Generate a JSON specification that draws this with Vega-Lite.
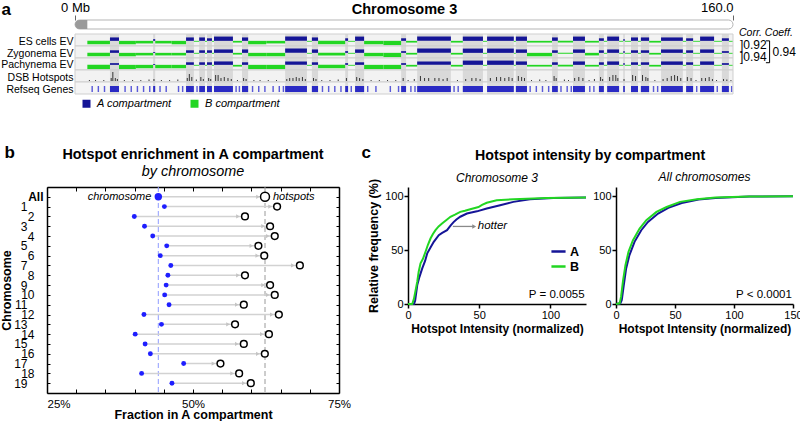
{
"$schema": "https://vega.github.io/schema/vega-lite/v6.json",
"padding": 0,
"background": "white",
"bounds": "flush",
"spacing": 167,
"config": {
  "font": "Liberation Sans",
  "view": {"stroke": null},
  "axis": {"grid": false, "labelFont": "Liberation Sans", "titleFont": "Liberation Sans", "labelColor": "black", "titleColor": "black", "domainColor": "black", "tickColor": "black"},
  "title": {"font": "Liberation Sans", "color": "black", "subtitleFont": "Liberation Sans", "subtitleColor": "black"},
  "legend": {"labelFont": "Liberation Sans", "labelColor": "black"},
  "text": {"font": "Liberation Sans"}
},
"datasets": {
  "ideo": [{"part": "chr", "s": 0, "e": 160}, {"part": "cen", "s": 0, "e": 3}],
  "comp": [
    {"s":3,"e":8.5,"c":"B","es":-4,"zy":-4,"pa":-5},
    {"s":8.5,"e":10.7,"c":"A","es":4,"zy":3,"pa":2},
    {"s":10.7,"e":14.8,"c":"B","es":-4,"zy":-4,"pa":-5},
    {"s":14.8,"e":19.0,"c":"B","es":-3,"zy":-3,"pa":-4},
    {"s":19.0,"e":19.5,"c":"A","es":2,"zy":1,"pa":1},
    {"s":19.5,"e":23.5,"c":"B","es":-3,"zy":-3,"pa":-4},
    {"s":23.5,"e":27.0,"c":"B","es":-4,"zy":-3,"pa":-4},
    {"s":27.0,"e":28.9,"c":"A","es":4,"zy":3,"pa":3},
    {"s":28.9,"e":30.2,"c":"B","es":-1,"zy":-1,"pa":-1},
    {"s":30.2,"e":31.6,"c":"A","es":4,"zy":3,"pa":3},
    {"s":31.6,"e":32.1,"c":"B","es":-1,"zy":-1,"pa":-1},
    {"s":32.1,"e":33.3,"c":"A","es":3,"zy":3,"pa":3},
    {"s":33.3,"e":33.8,"c":"B","es":-1,"zy":-1,"pa":-1},
    {"s":33.8,"e":38.4,"c":"A","es":5,"zy":4,"pa":4},
    {"s":38.4,"e":40.6,"c":"B","es":-2,"zy":-2,"pa":-2},
    {"s":40.6,"e":42.1,"c":"A","es":4,"zy":4,"pa":3},
    {"s":42.1,"e":46.5,"c":"B","es":-4,"zy":-4,"pa":-5},
    {"s":46.5,"e":51.1,"c":"B","es":-3,"zy":-4,"pa":-5},
    {"s":51.1,"e":56.4,"c":"A","es":5,"zy":5,"pa":4},
    {"s":56.4,"e":57.6,"c":"B","es":-1,"zy":-1,"pa":-1},
    {"s":57.6,"e":59.1,"c":"A","es":4,"zy":4,"pa":3},
    {"s":59.1,"e":65.7,"c":"B","es":-4,"zy":-3,"pa":-4},
    {"s":65.7,"e":66.4,"c":"A","es":3,"zy":2,"pa":2},
    {"s":66.4,"e":68.1,"c":"B","es":-1,"zy":-1,"pa":-1},
    {"s":68.1,"e":70.3,"c":"A","es":5,"zy":4,"pa":3},
    {"s":70.3,"e":75.0,"c":"B","es":-4,"zy":-4,"pa":-5},
    {"s":75.0,"e":79.3,"c":"B","es":-5,"zy":-5,"pa":-5},
    {"s":79.3,"e":80.5,"c":"A","es":3,"zy":2,"pa":2},
    {"s":80.5,"e":83.2,"c":"B","es":-2,"zy":-2,"pa":-2},
    {"s":83.2,"e":91.4,"c":"A","es":5,"zy":5,"pa":4},
    {"s":91.4,"e":94.3,"c":"B","es":-2,"zy":-2,"pa":-2},
    {"s":94.3,"e":99.2,"c":"A","es":5,"zy":5,"pa":5},
    {"s":99.2,"e":100.2,"c":"B","es":-1,"zy":-1,"pa":-1},
    {"s":100.2,"e":106.7,"c":"A","es":5,"zy":5,"pa":5},
    {"s":106.7,"e":107.2,"c":"B","es":-1,"zy":-1,"pa":-1},
    {"s":107.2,"e":109.9,"c":"A","es":5,"zy":4,"pa":4},
    {"s":109.9,"e":116.0,"c":"B","es":-2,"zy":-4,"pa":-2},
    {"s":116.0,"e":117.4,"c":"A","es":4,"zy":3,"pa":3},
    {"s":117.4,"e":121.1,"c":"B","es":-2,"zy":-1,"pa":-2},
    {"s":121.1,"e":124.0,"c":"A","es":5,"zy":4,"pa":4},
    {"s":124.0,"e":127.4,"c":"B","es":-2,"zy":-3,"pa":-2},
    {"s":127.4,"e":128.6,"c":"A","es":3,"zy":3,"pa":3},
    {"s":128.6,"e":129.4,"c":"B","es":-1,"zy":-1,"pa":-1},
    {"s":129.4,"e":132.3,"c":"A","es":5,"zy":4,"pa":4},
    {"s":132.3,"e":133.3,"c":"B","es":-1,"zy":-1,"pa":-1},
    {"s":133.3,"e":133.7,"c":"A","es":2,"zy":2,"pa":2},
    {"s":133.7,"e":135.2,"c":"B","es":-1,"zy":-1,"pa":-1},
    {"s":135.2,"e":136.9,"c":"A","es":4,"zy":3,"pa":3},
    {"s":136.9,"e":137.6,"c":"B","es":-1,"zy":-1,"pa":-1},
    {"s":137.6,"e":139.6,"c":"A","es":4,"zy":3,"pa":3},
    {"s":139.6,"e":142.5,"c":"B","es":-2,"zy":-2,"pa":-2},
    {"s":142.5,"e":147.8,"c":"A","es":4,"zy":4,"pa":4},
    {"s":147.8,"e":148.6,"c":"B","es":-1,"zy":-1,"pa":-1},
    {"s":148.6,"e":150.3,"c":"A","es":3,"zy":3,"pa":3},
    {"s":150.3,"e":152.0,"c":"B","es":-1,"zy":-1,"pa":-1},
    {"s":152.0,"e":155.4,"c":"A","es":5,"zy":4,"pa":4},
    {"s":155.4,"e":157.3,"c":"B","es":-1,"zy":-1,"pa":-1},
    {"s":157.3,"e":159.0,"c":"A","es":3,"zy":2,"pa":2},
    {"s":159.0,"e":160.0,"c":"B","es":-1,"zy":-1,"pa":-1}
  ],
  "dsb": [
    {"p":3.5,"h":1},{"p":5,"h":1},{"p":7,"h":1},{"p":8.8,"h":3},{"p":9.2,"h":9},{"p":9.8,"h":3},{"p":10.3,"h":2},{"p":12,"h":1},{"p":14,"h":1},{"p":16,"h":1},
    {"p":18,"h":1.5},{"p":19.2,"h":2},{"p":21,"h":1},{"p":23,"h":1},{"p":25,"h":1.5},{"p":27.3,"h":3},{"p":27.8,"h":7},{"p":28.4,"h":4},{"p":29.5,"h":1.5},{"p":30.6,"h":4},
    {"p":31.2,"h":2},{"p":32.5,"h":3},{"p":33,"h":2},{"p":34.2,"h":6},{"p":34.8,"h":6},{"p":35.5,"h":3},{"p":36.3,"h":4},{"p":37.2,"h":3},{"p":38,"h":2},{"p":39.5,"h":1},
    {"p":41,"h":3},{"p":41.6,"h":2},{"p":43.5,"h":1},{"p":45,"h":1},{"p":47,"h":1},{"p":49,"h":1},{"p":51.5,"h":2},{"p":52.2,"h":3},{"p":53,"h":3},{"p":53.8,"h":4},
    {"p":54.5,"h":3},{"p":55.3,"h":4},{"p":56,"h":2},{"p":58,"h":3},{"p":58.6,"h":2},{"p":60,"h":1},{"p":62,"h":1},{"p":64,"h":1.5},{"p":66,"h":3},{"p":68.5,"h":4},
    {"p":69.2,"h":3},{"p":70,"h":2},{"p":72,"h":1},{"p":74,"h":1},{"p":76,"h":1},{"p":78,"h":1},{"p":79.8,"h":3},{"p":81,"h":1},{"p":82.5,"h":2},{"p":84,"h":5},
    {"p":85,"h":3},{"p":86,"h":3},{"p":87.5,"h":3},{"p":88.5,"h":3},{"p":89.5,"h":2},{"p":90.5,"h":3},{"p":93,"h":1},{"p":95,"h":2},{"p":96.5,"h":3},{"p":97.5,"h":3},
    {"p":98.5,"h":2},{"p":101,"h":3},{"p":102.5,"h":4},{"p":103.5,"h":4},{"p":104.5,"h":3},{"p":105.5,"h":4},{"p":106.3,"h":3},{"p":107.8,"h":5},{"p":108.6,"h":4},{"p":109.3,"h":3},
    {"p":111,"h":1},{"p":113,"h":1.5},{"p":114.5,"h":1},{"p":116.5,"h":5},{"p":117,"h":3},{"p":119,"h":1.5},{"p":120,"h":1},{"p":121.5,"h":3},{"p":122.5,"h":4},{"p":123.5,"h":3},
    {"p":125,"h":1},{"p":126.3,"h":2},{"p":127.8,"h":4},{"p":128.3,"h":2},{"p":130,"h":4},{"p":130.8,"h":6},{"p":131.5,"h":6},{"p":132,"h":3},{"p":133.5,"h":2},{"p":135.6,"h":6},
    {"p":136.3,"h":5},{"p":138,"h":6},{"p":138.8,"h":4},{"p":139.3,"h":3},{"p":141,"h":1},{"p":143,"h":2},{"p":144,"h":3},{"p":145,"h":5},{"p":145.8,"h":6},{"p":146.5,"h":5},
    {"p":147.3,"h":3},{"p":148.9,"h":4},{"p":149.8,"h":3},{"p":151,"h":1},{"p":152.4,"h":3},{"p":153.3,"h":3},{"p":154.2,"h":4},{"p":155,"h":2},{"p":156,"h":1},{"p":157.7,"h":2},
    {"p":158.5,"h":1.5},{"p":159.5,"h":1}
  ],
  "genes": [
    {"s":4,"e":4.35},{"s":5.5,"e":5.85},{"s":7,"e":7.35},{"s":12,"e":12.35},{"s":13.5,"e":13.85},{"s":15,"e":15.35},{"s":16.5,"e":16.85},{"s":18,"e":18.35},
    {"s":20.5,"e":20.85},{"s":22,"e":22.35},{"s":25,"e":25.35},{"s":26,"e":26.35},{"s":29.5,"e":29.85},{"s":39,"e":39.35},{"s":39.8,"e":40.15},{"s":43,"e":43.35},
    {"s":44.5,"e":44.85},{"s":46,"e":46.35},{"s":48,"e":48.35},{"s":49.5,"e":49.85},{"s":50.5,"e":50.85},{"s":60,"e":60.35},{"s":61.5,"e":61.85},{"s":63,"e":63.35},
    {"s":64.5,"e":64.85},{"s":67,"e":67.35},{"s":71,"e":71.35},{"s":73,"e":73.35},{"s":76.5,"e":76.85},{"s":78.5,"e":78.85},{"s":81.5,"e":81.85},{"s":82.5,"e":82.85},
    {"s":92,"e":92.35},{"s":93,"e":93.35},{"s":110.5,"e":110.85},{"s":112,"e":112.35},{"s":113.5,"e":113.85},{"s":115,"e":115.35},{"s":118,"e":118.35},{"s":119.5,"e":119.85},
    {"s":120.5,"e":120.85},{"s":125,"e":125.35},{"s":126,"e":126.35},{"s":140.5,"e":140.85},{"s":141.5,"e":141.85},{"s":151,"e":151.35},{"s":156,"e":156.35},{"s":159.5,"e":159.85}
  ],
  "enrich": [
    {"chr":"All","chrom":0.4406,"hot":0.6233},
    {"chr":"1","chrom":0.451,"hot":0.644},
    {"chr":"2","chrom":0.3995,"hot":0.589},
    {"chr":"3","chrom":0.417,"hot":0.632},
    {"chr":"4","chrom":0.431,"hot":0.640},
    {"chr":"5","chrom":0.455,"hot":0.612},
    {"chr":"6","chrom":0.444,"hot":0.622},
    {"chr":"7","chrom":0.462,"hot":0.683},
    {"chr":"8","chrom":0.457,"hot":0.589},
    {"chr":"9","chrom":0.454,"hot":0.632},
    {"chr":"10","chrom":0.4515,"hot":0.640},
    {"chr":"11","chrom":0.459,"hot":0.587},
    {"chr":"12","chrom":0.416,"hot":0.647},
    {"chr":"13","chrom":0.446,"hot":0.572},
    {"chr":"14","chrom":0.401,"hot":0.630},
    {"chr":"15","chrom":0.418,"hot":0.587},
    {"chr":"16","chrom":0.427,"hot":0.623},
    {"chr":"17","chrom":0.484,"hot":0.547},
    {"chr":"18","chrom":0.412,"hot":0.579},
    {"chr":"19","chrom":0.464,"hot":0.599}
  ],
  "cdf3": [
    {"comp":"A","x":0,"y":0},{"comp":"A","x":4.2,"y":0},{"comp":"A","x":5,"y":3},{"comp":"A","x":6.5,"y":17.6},{"comp":"A","x":8,"y":25},{"comp":"A","x":10,"y":33},
    {"comp":"A","x":12,"y":40},{"comp":"A","x":13.5,"y":47},{"comp":"A","x":16,"y":53},{"comp":"A","x":18.1,"y":57.7},{"comp":"A","x":21.6,"y":63.9},{"comp":"A","x":24,"y":66},
    {"comp":"A","x":27.4,"y":68.5},{"comp":"A","x":30,"y":73},{"comp":"A","x":32,"y":76},{"comp":"A","x":34,"y":78.5},{"comp":"A","x":36.7,"y":81},{"comp":"A","x":41.4,"y":84},
    {"comp":"A","x":48.4,"y":86},{"comp":"A","x":55.3,"y":88.6},{"comp":"A","x":64.7,"y":91.7},{"comp":"A","x":74,"y":94.8},{"comp":"A","x":85.6,"y":97.2},{"comp":"A","x":101.9,"y":98.5},{"comp":"A","x":125,"y":98.8},
    {"comp":"B","x":0,"y":0},{"comp":"B","x":3,"y":0},{"comp":"B","x":4.2,"y":5},{"comp":"B","x":6.5,"y":20.7},{"comp":"B","x":7.5,"y":30},{"comp":"B","x":8.8,"y":37.7},
    {"comp":"B","x":10.5,"y":42},{"comp":"B","x":12.3,"y":48.5},{"comp":"B","x":14,"y":55},{"comp":"B","x":15.8,"y":60.8},{"comp":"B","x":17.5,"y":65},{"comp":"B","x":19.3,"y":68.5},
    {"comp":"B","x":21.5,"y":72},{"comp":"B","x":23.9,"y":74.7},{"comp":"B","x":27,"y":78},{"comp":"B","x":29.8,"y":81},{"comp":"B","x":33,"y":83},{"comp":"B","x":36.7,"y":85.5},
    {"comp":"B","x":40,"y":86.5},{"comp":"B","x":43.7,"y":88},{"comp":"B","x":49.5,"y":90},{"comp":"B","x":52,"y":92},{"comp":"B","x":55.3,"y":94},{"comp":"B","x":62.3,"y":96.3},
    {"comp":"B","x":74,"y":97.2},{"comp":"B","x":97.2,"y":98.5},{"comp":"B","x":125,"y":98.8}
  ],
  "cdfall": [
    {"comp":"A","x":0,"y":0},{"comp":"A","x":3.7,"y":0.6},{"comp":"A","x":4.9,"y":3.7},{"comp":"A","x":6.6,"y":17.6},{"comp":"A","x":8.6,"y":33},{"comp":"A","x":11.4,"y":45.4},
    {"comp":"A","x":15.7,"y":57.7},{"comp":"A","x":21.4,"y":68.5},{"comp":"A","x":27.1,"y":76.2},{"comp":"A","x":35.7,"y":84},{"comp":"A","x":44.3,"y":89.2},{"comp":"A","x":55.7,"y":93.8},
    {"comp":"A","x":70,"y":96.9},{"comp":"A","x":84.3,"y":98.5},{"comp":"A","x":112.9,"y":99.7},{"comp":"A","x":150,"y":100},
    {"comp":"B","x":0,"y":0},{"comp":"B","x":3.1,"y":0.6},{"comp":"B","x":4.3,"y":6.8},{"comp":"B","x":6,"y":22},{"comp":"B","x":8,"y":36},{"comp":"B","x":10.6,"y":48.5},
    {"comp":"B","x":14.3,"y":59},{"comp":"B","x":20,"y":70},{"comp":"B","x":25.7,"y":77.8},{"comp":"B","x":34.3,"y":85.5},{"comp":"B","x":42.9,"y":90},{"comp":"B","x":54.3,"y":94.8},
    {"comp":"B","x":68.6,"y":97.2},{"comp":"B","x":84.3,"y":98.8},{"comp":"B","x":112.9,"y":99.7},{"comp":"B","x":150,"y":100}
  ]
},
"vconcat": [
  {
    "bounds": "flush",
    "spacing": 0,
    "vconcat": [
      {
        "width": 686, "height": 14,
        "data": {"name": "ideo"},
        "layer": [
          {
            "transform": [{"filter": "datum.part === 'chr'"}],
            "mark": {"type": "rect", "fill": "white", "stroke": "#b5b5b5", "strokeWidth": 1, "cornerRadius": 4.5},
            "encoding": {
              "x": {"field": "s", "type": "quantitative", "scale": {"domain": [-6.81, 160], "nice": false, "zero": false},
                    "axis": {"orient": "top", "values": [0, 160], "labelExpr": "datum.value == 0 ? '0 Mb' : '160.0'",
                             "labelAlign": {"condition": {"test": "datum.value >= 160", "value": "right"}, "value": "center"},
                             "tickSize": 5, "tickColor": "#666", "labelPadding": 1, "labelFontSize": 13, "domain": false,
                             "title": "Chromosome 3", "titleFontSize": 14.5, "titleFontWeight": "bold", "titleX": 357, "titleY": -11, "titleAlign": "center", "titleBaseline": "middle"}},
              "x2": {"field": "e"},
              "y": {"datum": 5, "type": "quantitative", "scale": {"domain": [0, 14], "nice": false},
                    "axis": {"labels": false, "ticks": false, "domain": false, "title": "a", "titleAngle": 0, "titleX": -46, "titleY": -11, "titleAlign": "left", "titleBaseline": "middle", "titleFontSize": 17, "titleFontWeight": "bold"}},
              "y2": {"datum": 14}
            }
          },
          {
            "transform": [{"filter": "datum.part === 'cen'"}],
            "mark": {"type": "rect", "fill": "#9a9a9a", "cornerRadiusTopLeft": 4.5, "cornerRadiusBottomLeft": 4.5},
            "encoding": {
              "x": {"field": "s", "type": "quantitative"},
              "x2": {"field": "e"},
              "y": {"datum": 5, "type": "quantitative"},
              "y2": {"datum": 14}
            }
          }
        ]
      },
      {
        "width": 686, "height": 12,
        "layer": [
          {"data": {"name": "ideo"}, "transform": [{"filter": "datum.part === 'chr'"}],
           "mark": {"type": "rect", "fill": "#f2f2f2"},
           "encoding": {"x": {"field": "s", "type": "quantitative", "scale": {"domain": [-6.81, 160], "nice": false, "zero": false}, "axis": null}, "x2": {"field": "e"}}},
          {"data": {"name": "comp"}, "transform": [{"filter": "datum.c === 'A'"}],
           "mark": {"type": "rect", "color": "#d9d9d9"},
           "encoding": {"x": {"field": "s", "type": "quantitative"}, "x2": {"field": "e"}}},
          {"data": {"name": "comp"},
           "mark": {"type": "rect"},
           "encoding": {
             "x": {"field": "s", "type": "quantitative"},
             "x2": {"field": "e"},
             "y": {"field": "es", "type": "quantitative", "scale": {"domain": [-6, 8], "nice": false},
                   "axis": {"title": "ES cells EV", "titleAngle": 0, "titleAlign": "right", "titleBaseline": "middle", "titleX": 26, "titleY": 7, "titleFontSize": 10.5, "titleFontWeight": "normal", "labels": false, "ticks": false, "domain": false}},
             "y2": {"datum": 0},
             "color": {"field": "c", "type": "nominal", "scale": {"domain": ["A", "B"], "range": ["#151597", "#22d622"]},
                       "legend": {"orient": "none", "legendX": 34, "legendY": 78, "direction": "horizontal", "title": null, "symbolType": "square", "symbolSize": 64, "symbolStrokeWidth": 0,
                                  "labelExpr": "datum.label + ' compartment'", "labelFontStyle": "italic", "labelFontSize": 11, "columnPadding": 17, "labelOffset": 5}}
           }},
          {"data": {"name": "ideo"}, "transform": [{"filter": "datum.part === 'chr'"}],
           "mark": {"type": "rect", "filled": false, "stroke": "#cfcfcf", "strokeWidth": 1},
           "encoding": {"x": {"field": "s", "type": "quantitative"}, "x2": {"field": "e"}}},
          {"data": {"values": [{}]}, "mark": {"type": "text", "text": "Corr. Coeff.", "align": "left", "baseline": "middle", "dx": 6, "fontSize": 10.5, "fontStyle": "italic"},
           "encoding": {"x": {"datum": 160, "type": "quantitative"}, "y": {"datum": 9.2, "type": "quantitative"}}},
          {"data": {"values": [{}]}, "mark": {"type": "text", "text": "]0.92", "align": "left", "baseline": "middle", "dx": 7, "fontSize": 12},
           "encoding": {"x": {"datum": 160, "type": "quantitative"}, "y": {"datum": -4.6, "type": "quantitative"}}},
          {"data": {"values": [{}]}, "mark": {"type": "text", "text": "]0.94", "align": "left", "baseline": "middle", "dx": 7, "fontSize": 12},
           "encoding": {"x": {"datum": 160, "type": "quantitative"}, "y": {"datum": -18.5, "type": "quantitative"}}},
          {"data": {"values": [{}]}, "mark": {"type": "rule", "color": "black", "strokeWidth": 1},
           "encoding": {"x": {"datum": 168.9, "type": "quantitative"}, "y": {"datum": 0, "type": "quantitative"}, "y2": {"datum": -25.5}}},
          {"data": {"values": [{}]}, "mark": {"type": "rule", "color": "black", "strokeWidth": 1},
           "encoding": {"x": {"datum": 168.0, "type": "quantitative"}, "x2": {"datum": 168.9}, "y": {"datum": 0, "type": "quantitative"}}},
          {"data": {"values": [{}]}, "mark": {"type": "rule", "color": "black", "strokeWidth": 1},
           "encoding": {"x": {"datum": 168.0, "type": "quantitative"}, "x2": {"datum": 168.9}, "y": {"datum": -25.5, "type": "quantitative"}}},
          {"data": {"values": [{}]}, "mark": {"type": "text", "text": "0.94", "align": "left", "baseline": "middle", "dx": 3, "fontSize": 12},
           "encoding": {"x": {"datum": 168.9, "type": "quantitative"}, "y": {"datum": -12.8, "type": "quantitative"}}}
        ]
      },
      {
        "width": 686, "height": 12,
        "layer": [
          {"data": {"name": "ideo"}, "transform": [{"filter": "datum.part === 'chr'"}],
           "mark": {"type": "rect", "fill": "#f2f2f2"},
           "encoding": {"x": {"field": "s", "type": "quantitative", "scale": {"domain": [-6.81, 160], "nice": false, "zero": false}, "axis": null}, "x2": {"field": "e"}}},
          {"data": {"name": "comp"}, "transform": [{"filter": "datum.c === 'A'"}],
           "mark": {"type": "rect", "color": "#d9d9d9"},
           "encoding": {"x": {"field": "s", "type": "quantitative"}, "x2": {"field": "e"}}},
          {"data": {"name": "comp"},
           "mark": {"type": "rect"},
           "encoding": {
             "x": {"field": "s", "type": "quantitative"},
             "x2": {"field": "e"},
             "y": {"field": "zy", "type": "quantitative", "scale": {"domain": [-6, 8], "nice": false},
                   "axis": {"title": "Zygonema EV", "titleAngle": 0, "titleAlign": "right", "titleBaseline": "middle", "titleX": 26, "titleY": 7, "titleFontSize": 10.5, "titleFontWeight": "normal", "labels": false, "ticks": false, "domain": false}},
             "y2": {"datum": 0},
             "color": {"field": "c", "type": "nominal", "scale": {"domain": ["A", "B"], "range": ["#151597", "#22d622"]}, "legend": null}
           }},
          {"data": {"name": "ideo"}, "transform": [{"filter": "datum.part === 'chr'"}],
           "mark": {"type": "rect", "filled": false, "stroke": "#cfcfcf", "strokeWidth": 1},
           "encoding": {"x": {"field": "s", "type": "quantitative"}, "x2": {"field": "e"}}}
        ]
      },
      {
        "width": 686, "height": 12,
        "layer": [
          {"data": {"name": "ideo"}, "transform": [{"filter": "datum.part === 'chr'"}],
           "mark": {"type": "rect", "fill": "#f2f2f2"},
           "encoding": {"x": {"field": "s", "type": "quantitative", "scale": {"domain": [-6.81, 160], "nice": false, "zero": false}, "axis": null}, "x2": {"field": "e"}}},
          {"data": {"name": "comp"}, "transform": [{"filter": "datum.c === 'A'"}],
           "mark": {"type": "rect", "color": "#d9d9d9"},
           "encoding": {"x": {"field": "s", "type": "quantitative"}, "x2": {"field": "e"}}},
          {"data": {"name": "comp"},
           "mark": {"type": "rect"},
           "encoding": {
             "x": {"field": "s", "type": "quantitative"},
             "x2": {"field": "e"},
             "y": {"field": "pa", "type": "quantitative", "scale": {"domain": [-6, 8], "nice": false},
                   "axis": {"title": "Pachynema EV", "titleAngle": 0, "titleAlign": "right", "titleBaseline": "middle", "titleX": 26, "titleY": 6, "titleFontSize": 10.5, "titleFontWeight": "normal", "labels": false, "ticks": false, "domain": false}},
             "y2": {"datum": 0},
             "color": {"field": "c", "type": "nominal", "scale": {"domain": ["A", "B"], "range": ["#151597", "#22d622"]}, "legend": null}
           }},
          {"data": {"name": "ideo"}, "transform": [{"filter": "datum.part === 'chr'"}],
           "mark": {"type": "rect", "filled": false, "stroke": "#cfcfcf", "strokeWidth": 1},
           "encoding": {"x": {"field": "s", "type": "quantitative"}, "x2": {"field": "e"}}}
        ]
      },
      {
        "width": 686, "height": 12,
        "layer": [
          {"data": {"name": "ideo"}, "transform": [{"filter": "datum.part === 'chr'"}],
           "mark": {"type": "rect", "fill": "#f2f2f2"},
           "encoding": {"x": {"field": "s", "type": "quantitative", "scale": {"domain": [-6.81, 160], "nice": false, "zero": false},
                              "axis": {"orient": "bottom", "labels": false, "ticks": false, "domain": false, "title": "c", "titleX": 314, "titleY": 70, "titleAlign": "left", "titleBaseline": "middle", "titleFontSize": 17, "titleFontWeight": "bold"}},
                        "x2": {"field": "e"}}},
          {"data": {"name": "comp"}, "transform": [{"filter": "datum.c === 'A'"}],
           "mark": {"type": "rect", "color": "#d9d9d9"},
           "encoding": {"x": {"field": "s", "type": "quantitative"}, "x2": {"field": "e"}}},
          {"data": {"name": "dsb"},
           "mark": {"type": "rule", "color": "#222222", "strokeWidth": 0.9},
           "encoding": {
             "x": {"field": "p", "type": "quantitative"},
             "y": {"field": "h", "type": "quantitative", "scale": {"domain": [-1, 11], "nice": false},
                   "axis": {"title": "DSB Hotspots", "titleAngle": 0, "titleAlign": "right", "titleBaseline": "middle", "titleX": 26, "titleY": 7, "titleFontSize": 10.5, "titleFontWeight": "normal", "labels": false, "ticks": false, "domain": false}},
             "y2": {"datum": 0}
           }},
          {"data": {"name": "ideo"}, "transform": [{"filter": "datum.part === 'chr'"}],
           "mark": {"type": "rect", "filled": false, "stroke": "#cfcfcf", "strokeWidth": 1},
           "encoding": {"x": {"field": "s", "type": "quantitative"}, "x2": {"field": "e"}}}
        ]
      },
      {
        "width": 686, "height": 12,
        "layer": [
          {"data": {"name": "ideo"}, "transform": [{"filter": "datum.part === 'chr'"}],
           "mark": {"type": "rect", "fill": "#f5f5f5"},
           "encoding": {"x": {"field": "s", "type": "quantitative", "scale": {"domain": [-6.81, 160], "nice": false, "zero": false},
                              "axis": {"orient": "bottom", "labels": false, "ticks": false, "domain": false, "title": "b", "titleX": -43, "titleY": 58, "titleAlign": "left", "titleBaseline": "middle", "titleFontSize": 17, "titleFontWeight": "bold"}},
                        "x2": {"field": "e"}}},
          {"data": {"name": "comp"}, "transform": [{"filter": "datum.c === 'A'"}],
           "mark": {"type": "rect", "color": "#dcdcdc"},
           "encoding": {"x": {"field": "s", "type": "quantitative"}, "x2": {"field": "e"}}},
          {"data": {"name": "comp"}, "transform": [{"filter": "datum.c === 'A'"}],
           "mark": {"type": "rect", "color": "#2a2ac4"},
           "encoding": {
             "x": {"field": "s", "type": "quantitative"},
             "x2": {"field": "e"},
             "y": {"datum": 2, "type": "quantitative", "scale": {"domain": [0, 12], "nice": false},
                   "axis": {"title": "Refseq Genes", "titleAngle": 0, "titleAlign": "right", "titleBaseline": "middle", "titleX": 26, "titleY": 7, "titleFontSize": 10.5, "titleFontWeight": "normal", "labels": false, "ticks": false, "domain": false}},
             "y2": {"datum": 8}
           }},
          {"data": {"name": "genes"},
           "mark": {"type": "rect", "color": "#5a5ad8"},
           "encoding": {
             "x": {"field": "s", "type": "quantitative"},
             "x2": {"field": "e"},
             "y": {"datum": 2, "type": "quantitative"},
             "y2": {"datum": 8}
           }},
          {"data": {"name": "ideo"}, "transform": [{"filter": "datum.part === 'chr'"}],
           "mark": {"type": "rect", "filled": false, "stroke": "#cfcfcf", "strokeWidth": 1},
           "encoding": {"x": {"field": "s", "type": "quantitative"}, "x2": {"field": "e"}}}
        ]
      }
    ]
  },
  {
    "bounds": "flush",
    "spacing": 69,
    "hconcat": [
      {
        "width": 292, "height": 206,
        "data": {"name": "enrich"},
        "title": {"text": "Hotspot enrichment in A compartment", "subtitle": "by chromosome", "fontSize": 14.4, "fontWeight": "bold", "subtitleFontSize": 14.4, "subtitleFontStyle": "italic", "subtitlePadding": 3, "offset": 7, "anchor": "middle"},
        "resolve": {"axis": {"x": "independent", "y": "independent"}},
        "layer": [
          {"transform": [{"filter": "datum.chr === 'All'"}],
           "mark": {"type": "rule", "color": "#8f9cff", "strokeDash": [5, 3], "strokeWidth": 1},
           "encoding": {"x": {"field": "chrom", "type": "quantitative", "scale": {"domain": [0.25, 0.75], "nice": false, "zero": false}, "axis": null}}},
          {"transform": [{"filter": "datum.chr === 'All'"}],
           "mark": {"type": "rule", "color": "#9a9a9a", "strokeDash": [5, 3], "strokeWidth": 1},
           "encoding": {"x": {"field": "hot", "type": "quantitative", "axis": null}}},
          {"mark": {"type": "rule", "color": "#d2d2d2", "strokeWidth": 1.5},
           "encoding": {
             "x": {"field": "chrom", "type": "quantitative",
                   "axis": {"orient": "bottom", "values": [0.25, 0.3, 0.35, 0.4, 0.45, 0.5, 0.55, 0.6, 0.65, 0.7, 0.75],
                      "labelExpr": "indexof([25,50,75], round(datum.value*100)) >= 0 ? round(datum.value*100) + '%' : ''",
                      "labelAlign": {"condition": {"test": "datum.value < 0.26", "value": "left"}, "value": "center"},
                      "tickSize": -4, "domain": true, "domainWidth": 1.5, "domainColor": "black", "labelPadding": 9, "labelFontSize": 11.5,
                      "title": "Fraction in A compartment", "titleFontSize": 12.5, "titleFontWeight": "bold", "titlePadding": -1}},
             "x2": {"field": "hot"},
             "y": {"field": "chr", "type": "nominal", "sort": ["All","1","2","3","4","5","6","7","8","9","10","11","12","13","14","15","16","17","18","19"], "scale": {"type": "point", "padding": 1.37},
                   "axis": {"orient": "left", "labelFontSize": 12,
                            "labelFontWeight": {"condition": {"test": "datum.value === 'All'", "value": "bold"}, "value": "normal"},
                            "labelPadding": {"condition": [{"test": "datum.value === 'All'", "value": 7}, {"test": "toNumber(datum.value) % 2 === 1", "value": 23}], "value": 16},
                            "tickSize": -3, "domain": true, "domainWidth": 1.5, "domainColor": "black", "title": "Chromosome", "titleFontSize": 12.5, "titleFontWeight": "bold", "titlePadding": 0}}
           }},
          {"mark": {"type": "point", "shape": "triangle-right", "filled": true, "color": "#c4c4c4", "size": 18, "xOffset": -7, "opacity": 1},
           "encoding": {
             "x": {"field": "hot", "type": "quantitative",
                   "axis": {"orient": "top", "values": [0.25, 0.3, 0.35, 0.4, 0.45, 0.5, 0.55, 0.6, 0.65, 0.7, 0.75], "labels": false, "tickSize": -4, "domain": true, "domainWidth": 1.5, "domainColor": "black", "title": null}},
             "y": {"field": "chr", "type": "nominal", "sort": ["All","1","2","3","4","5","6","7","8","9","10","11","12","13","14","15","16","17","18","19"],
                   "axis": {"orient": "right", "labels": false, "tickSize": -3, "domain": true, "domainWidth": 1.5, "domainColor": "black", "title": null}}
           }},
          {"mark": {"type": "point", "filled": true, "color": "#1e1eff", "opacity": 1},
           "encoding": {
             "x": {"field": "chrom", "type": "quantitative", "axis": null},
             "y": {"field": "chr", "type": "nominal", "sort": ["All","1","2","3","4","5","6","7","8","9","10","11","12","13","14","15","16","17","18","19"], "axis": null},
             "size": {"condition": {"test": "datum.chr === 'All'", "value": 55}, "value": 24}
           }},
          {"mark": {"type": "point", "filled": true, "fill": "white", "stroke": "black", "strokeWidth": 1.5, "opacity": 1},
           "encoding": {
             "x": {"field": "hot", "type": "quantitative", "axis": null},
             "y": {"field": "chr", "type": "nominal", "sort": ["All","1","2","3","4","5","6","7","8","9","10","11","12","13","14","15","16","17","18","19"], "axis": null},
             "size": {"condition": {"test": "datum.chr === 'All'", "value": 80}, "value": 45}
           }},
          {"transform": [{"filter": "datum.chr === 'All'"}],
           "mark": {"type": "text", "text": "chromosome", "align": "right", "baseline": "middle", "dx": -7, "fontSize": 11, "fontStyle": "italic"},
           "encoding": {
             "x": {"field": "chrom", "type": "quantitative", "axis": null},
             "y": {"field": "chr", "type": "nominal", "sort": ["All","1","2","3","4","5","6","7","8","9","10","11","12","13","14","15","16","17","18","19"], "axis": null}
           }},
          {"transform": [{"filter": "datum.chr === 'All'"}],
           "mark": {"type": "text", "text": "hotspots", "align": "left", "baseline": "middle", "dx": 8, "fontSize": 11, "fontStyle": "italic"},
           "encoding": {
             "x": {"field": "hot", "type": "quantitative", "axis": null},
             "y": {"field": "chr", "type": "nominal", "sort": ["All","1","2","3","4","5","6","7","8","9","10","11","12","13","14","15","16","17","18","19"], "axis": null}
           }}
        ]
      },
      {
        "bounds": "flush",
        "spacing": 30,
        "resolve": {"legend": {"color": "independent"}},
        "title": {"text": "Hotspot intensity by compartment", "fontSize": 14.2, "fontWeight": "bold", "anchor": "start", "frame": "group", "dx": 67, "offset": 8},
        "hconcat": [
          {
            "width": 178, "height": 117,
            "title": {"text": "Chromosome 3", "fontSize": 12, "fontStyle": "italic", "fontWeight": "normal", "offset": 3, "dy": 10},
            "layer": [
              {"data": {"name": "cdf3"},
               "mark": {"type": "line", "strokeWidth": 2},
               "encoding": {
                 "x": {"field": "x", "type": "quantitative", "scale": {"domain": [0, 125], "nice": false},
                       "axis": {"values": [0, 50, 100], "tickSize": 4, "tickWidth": 1.5, "domainWidth": 1.5, "labelFontSize": 11, "labelPadding": 1, "labelFlush": false,
                                "title": "Hotspot Intensity (normalized)", "titleFontSize": 12, "titleFontWeight": "bold", "titlePadding": 3}},
                 "y": {"field": "y", "type": "quantitative", "scale": {"domain": [0, 108.6], "nice": false},
                       "axis": {"values": [0, 50, 100], "tickSize": 4, "tickWidth": 1.5, "domainWidth": 1.5, "labelFontSize": 11, "labelPadding": 1, "labelFlush": false,
                                "title": "Relative frequency (%)", "titleFontSize": 12.5, "titleFontWeight": "bold", "titlePadding": 4}},
                 "color": {"field": "comp", "type": "nominal", "scale": {"domain": ["A", "B"], "range": ["#2338f5", "#3de83d"]},
                           "legend": {"orient": "none", "legendX": 142, "legendY": 56, "title": null, "symbolType": "stroke", "symbolStrokeWidth": 2.5, "symbolSize": 200, "labelFontSize": 12.5, "labelFontWeight": "bold", "rowPadding": -7, "labelOffset": 3}}
               }},
              {"data": {"values": [{}]}, "mark": {"type": "rule", "color": "#8a8a8a", "strokeWidth": 1.3},
               "encoding": {"x": {"datum": 31.5, "type": "quantitative"}, "x2": {"datum": 46}, "y": {"datum": 72, "type": "quantitative"}}},
              {"data": {"values": [{}]}, "mark": {"type": "point", "shape": "triangle-right", "filled": true, "color": "#8a8a8a", "size": 20, "opacity": 1},
               "encoding": {"x": {"datum": 46.5, "type": "quantitative"}, "y": {"datum": 72, "type": "quantitative"}}},
              {"data": {"values": [{}]}, "mark": {"type": "text", "text": "hotter", "align": "left", "baseline": "middle", "fontSize": 11.5, "fontStyle": "italic"},
               "encoding": {"x": {"datum": 49, "type": "quantitative"}, "y": {"datum": 72, "type": "quantitative"}}},
              {"data": {"values": [{}]}, "mark": {"type": "text", "text": "P = 0.0055", "align": "right", "baseline": "bottom", "fontSize": 11.5},
               "encoding": {"x": {"datum": 124, "type": "quantitative"}, "y": {"datum": 4, "type": "quantitative"}}}
            ]
          },
          {
            "width": 177, "height": 117,
            "title": {"text": "All chromosomes", "fontSize": 12, "fontStyle": "italic", "fontWeight": "normal", "offset": 3},
            "layer": [
              {"data": {"name": "cdfall"},
               "mark": {"type": "line", "strokeWidth": 2},
               "encoding": {
                 "x": {"field": "x", "type": "quantitative", "scale": {"domain": [0, 150], "nice": false},
                       "axis": {"values": [0, 50, 100, 150], "tickSize": 4, "tickWidth": 1.5, "domainWidth": 1.5, "labelFontSize": 11, "labelPadding": 1, "labelFlush": false,
                                "title": "Hotspot Intensity (normalized)", "titleFontSize": 12, "titleFontWeight": "bold", "titlePadding": 3}},
                 "y": {"field": "y", "type": "quantitative", "scale": {"domain": [0, 108.6], "nice": false},
                       "axis": {"values": [0, 50, 100], "tickSize": 4, "tickWidth": 1.5, "domainWidth": 1.5, "labelFontSize": 11, "labelPadding": 1, "labelFlush": false, "title": null}},
                 "color": {"field": "comp", "type": "nominal", "scale": {"domain": ["A", "B"], "range": ["#2338f5", "#3de83d"]}, "legend": null}
               }},
              {"data": {"values": [{}]}, "mark": {"type": "text", "text": "P < 0.0001", "align": "right", "baseline": "bottom", "fontSize": 11.5},
               "encoding": {"x": {"datum": 149, "type": "quantitative"}, "y": {"datum": 4, "type": "quantitative"}}}
            ]
          }
        ]
      }
    ]
  }
]
}
